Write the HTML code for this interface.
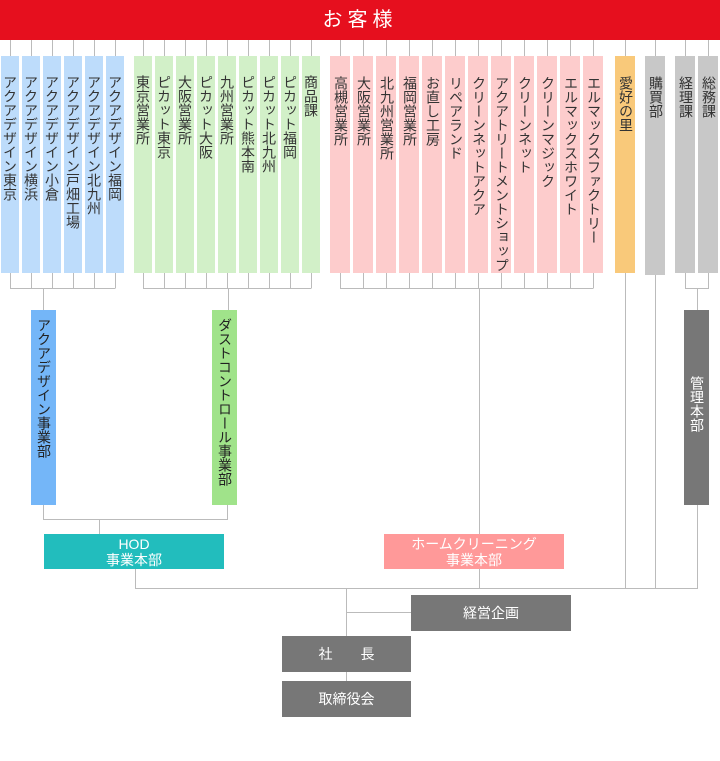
<!DOCTYPE html>
<html><head><meta charset="utf-8"><style>
body{margin:0;width:720px;height:761px;position:relative;background:#fff;overflow:hidden;font-family:"Liberation Sans","Noto Sans CJK JP",sans-serif}
.c{position:absolute;top:56px;height:217px;writing-mode:vertical-rl;font-size:14px;color:#333;box-sizing:border-box;padding-top:19px;line-height:18px;text-align:start}
.b{background:#bddcfb;width:18px}
.g{background:#d2f0c8;width:18px}
.p{background:#fdcccc;width:20px;padding-top:20px}
.o{background:#f9c97a;width:20px;padding-top:20px}
.y{background:#c8c8c8;width:20px;padding-top:20px}
.box{position:absolute;color:#fff;font-size:14px;text-align:center;display:flex;align-items:center;justify-content:center;line-height:16px}
svg{position:absolute;left:0;top:0}
</style></head><body>
<div style="position:absolute;left:0;top:0;width:720px;height:40px;background:#e60f1e;color:#fff;font-size:20px;letter-spacing:5px;text-align:center;line-height:40px">お客様</div>
<svg width="720" height="761" stroke="#bbb" stroke-width="1" fill="none">
<path d="M10.5 40V56M31.5 40V56M52.5 40V56M73.5 40V56M94.5 40V56M115.5 40V56
M143.5 40V56M164.5 40V56M185.5 40V56M206.5 40V56M227.5 40V56M248.5 40V56M269.5 40V56M290.5 40V56M311.5 40V56
M340.5 40V56M363.5 40V56M386.5 40V56M409.5 40V56M432.5 40V56M455.5 40V56M478.5 40V56M501.5 40V56M524.5 40V56M547.5 40V56M570.5 40V56M593.5 40V56
M625.5 40V56M655.5 40V56M685.5 40V56M708.5 40V56"/>
<path d="M10.5 273V288.5H115.5M31.5 273V288M52.5 273V288M73.5 273V288M94.5 273V288M115.5 273V288M43.5 288V310"/>
<path d="M143.5 273V288.5H311.5M164.5 273V288M185.5 273V288M206.5 273V288M227.5 273V288M248.5 273V288M269.5 273V288M290.5 273V288M311.5 273V288M228.5 288V310"/>
<path d="M340.5 273V288.5H593.5M363.5 273V288M386.5 273V288M409.5 273V288M432.5 273V288M455.5 273V288M478.5 273V288M501.5 273V288M524.5 273V288M547.5 273V288M570.5 273V288M593.5 273V288M479.5 288V534"/>
<path d="M685.5 273V288.5H708.5V273M697.5 288V310"/>
<path d="M43.5 505V519.5H227.5V505M99.5 519V534"/>
<path d="M135.5 569V588.5H697.5V505M479.5 569V588M625.5 273V588M655.5 273V588"/>
<path d="M346.5 588V636M346.5 612.5H411M346.5 672V681"/>
</svg>
<div class="c b" style="left:1px">アクアデザイン東京</div>
<div class="c b" style="left:22px">アクアデザイン横浜</div>
<div class="c b" style="left:43px">アクアデザイン小倉</div>
<div class="c b" style="left:64px">アクアデザイン戸畑工場</div>
<div class="c b" style="left:85px">アクアデザイン北九州</div>
<div class="c b" style="left:106px">アクアデザイン福岡</div>
<div class="c g" style="left:134px">東京営業所</div>
<div class="c g" style="left:155px">ピカット東京</div>
<div class="c g" style="left:176px">大阪営業所</div>
<div class="c g" style="left:197px">ピカット大阪</div>
<div class="c g" style="left:218px">九州営業所</div>
<div class="c g" style="left:239px">ピカット熊本南</div>
<div class="c g" style="left:260px">ピカット北九州</div>
<div class="c g" style="left:281px">ピカット福岡</div>
<div class="c g" style="left:302px">商品課</div>
<div class="c p" style="left:330px">高槻営業所</div>
<div class="c p" style="left:353px">大阪営業所</div>
<div class="c p" style="left:376px">北九州営業所</div>
<div class="c p" style="left:399px">福岡営業所</div>
<div class="c p" style="left:422px">お直し工房</div>
<div class="c p" style="left:445px">リペアランド</div>
<div class="c p" style="left:468px">クリーンネットアクア</div>
<div class="c p" style="left:491px">アクアトリートメントショップ</div>
<div class="c p" style="left:514px">クリーンネット</div>
<div class="c p" style="left:537px">クリーンマジック</div>
<div class="c p" style="left:560px">エルマックスホワイト</div>
<div class="c p" style="left:583px">エルマックスファクトリー</div>
<div class="c o" style="left:615px">愛好の里</div>
<div class="c y" style="left:645px;height:219px">購買部</div>
<div class="c y" style="left:675px">経理課</div>
<div class="c y" style="left:698px">総務課</div>
<div class="c" style="left:31px;top:310px;width:25px;height:195px;background:#74b6f8;padding-top:8px;line-height:25px;font-size:14px;color:#222">アクアデザイン事業部</div>
<div class="c" style="left:212px;top:310px;width:25px;height:195px;background:#a0e38a;padding-top:8px;line-height:25px;font-size:14px;color:#222">ダストコントロール事業部</div>
<div class="c" style="left:684px;top:310px;width:25px;height:195px;background:#777;padding-top:66px;line-height:25px;font-size:14px;color:#fff">管理本部</div>
<div class="box" style="left:44px;top:534px;width:180px;height:35px;background:#22bdbd">HOD<br>事業本部</div>
<div class="box" style="left:384px;top:534px;width:180px;height:35px;background:#ff9999">ホームクリーニング<br>事業本部</div>
<div class="box" style="left:411px;top:595px;width:160px;height:36px;background:#777">経営企画</div>
<div class="box" style="left:282px;top:636px;width:129px;height:36px;background:#777">社　　長</div>
<div class="box" style="left:282px;top:681px;width:129px;height:36px;background:#777">取締役会</div>
</body></html>
